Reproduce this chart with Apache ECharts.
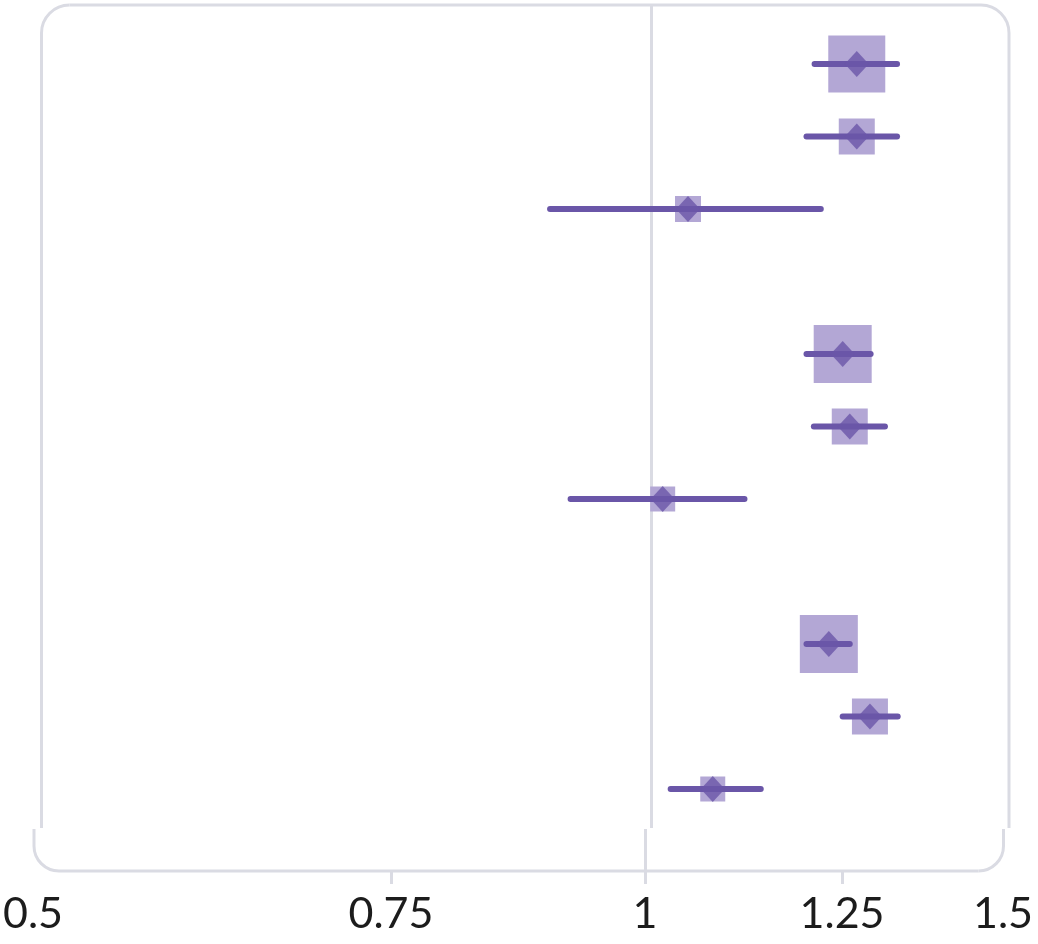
<!DOCTYPE html>
<html>
<head>
<meta charset="utf-8">
<script src="https://cdn.jsdelivr.net/npm/echarts@6/dist/echarts.min.js"></script>
<style>
html,body{margin:0;padding:0;background:#ffffff;}
#chart{width:1038px;height:944px;}
</style>
</head>
<body>
<div id="chart"></div>
<script>
// ---- data ----
const xTicks = [0.5, 0.75, 1, 1.25, 1.5];
const rowPos = [0, 1, 2, 4, 5, 6, 8, 9, 10];           // row slots (gaps between groups)
const estimates = [1.262, 1.262, 1.042, 1.242, 1.252, 1.0125, 1.2226, 1.281, 1.0717];
const lower     = [1.203, 1.192, 0.891, 1.192, 1.202, 0.912, 1.192, 1.242, 1.0217];
const upper     = [1.321, 1.321, 1.2115, 1.282, 1.303, 1.111, 1.252, 1.322, 1.1317];
const weights   = [57, 36, 26, 58, 36, 25, 58, 36, 25]; // relative study weights (box size)
const refValue = 1;

// ---- styles ----
const PURPLE = '#6a56a8';
const BOX = '#b3a7d5';
const FRAME = '#dadbe3';

const chart = echarts.init(document.getElementById('chart'), null, {renderer: 'canvas'});

const boxData = rowPos.map((r, i) => [estimates[i], r, weights[i]]);
const ciData = rowPos.map((r, i) => [lower[i], upper[i], r]);
const estData = rowPos.map((r, i) => [estimates[i], r]);

const fmt = v => String(Number(Number(v).toPrecision(3)));

const frameStyle = {stroke: FRAME, lineWidth: 3, fill: null};

const option = {
  backgroundColor: '#ffffff',
  animation: false,
  grid: [
    {left: 41, right: 29, top: 5, bottom: 116},
    {left: 33, right: 35, top: 829, bottom: 73}
  ],
  xAxis: [
    {gridIndex: 0, type: 'log', min: 0.5, max: 1.5,
     axisLine: {show: false}, axisTick: {show: false}, axisLabel: {show: false}, splitLine: {show: false}},
    {gridIndex: 1, type: 'log', min: 0.5, max: 1.5,
     axisLine: {show: false},
     axisTick: {show: true, customValues: [0.75, 1, 1.25], length: 13, lineStyle: {color: FRAME, width: 3}},
     axisLabel: {show: true, customValues: xTicks, formatter: fmt, margin: 22,
                 fontSize: 43, color: '#1c1c1c', fontFamily: 'Lato'},
     splitLine: {show: false}}
  ],
  yAxis: [
    {gridIndex: 0, type: 'value', inverse: true, min: -0.814, max: 10.538, show: false},
    {gridIndex: 1, type: 'value', min: 0, max: 1, show: false}
  ],
  series: [
    {
      type: 'scatter', xAxisIndex: 0, yAxisIndex: 0, data: boxData,
      symbol: 'rect', symbolSize: d => d[2],
      itemStyle: {color: BOX, opacity: 1}, silent: true, z: 2,
      markLine: {silent: true, symbol: 'none', label: {show: false},
        lineStyle: {color: FRAME, width: 3, type: 'solid'}, data: [{xAxis: refValue}], z: 1}
    },
    {
      type: 'custom', xAxisIndex: 0, yAxisIndex: 0, data: ciData, z: 3,
      encode: {x: [0, 1], y: 2},
      renderItem: function (params, api) {
        const a = api.coord([api.value(0), api.value(2)]);
        const b = api.coord([api.value(1), api.value(2)]);
        return {type: 'line', shape: {x1: a[0], y1: a[1], x2: b[0], y2: b[1]},
                style: {stroke: PURPLE, lineWidth: 6, lineCap: 'round'}};
      }
    },
    {
      type: 'scatter', xAxisIndex: 0, yAxisIndex: 0, data: estData, z: 4,
      symbol: 'diamond', symbolSize: [24, 26],
      itemStyle: {color: PURPLE}, silent: true
    },
    {
      type: 'line', xAxisIndex: 1, yAxisIndex: 1, data: [],
      markLine: {silent: true, symbol: 'none', label: {show: false},
        lineStyle: {color: FRAME, width: 3, type: 'solid'}, data: [{xAxis: refValue}]}
    }
  ],
  graphic: [
    {type: 'group', silent: true, children: [
      {type: 'line', shape: {x1: 41.5, y1: 828, x2: 41.5, y2: 33}, style: frameStyle},
      {type: 'arc', shape: {cx: 69.5, cy: 33, r: 28, startAngle: Math.PI, endAngle: Math.PI * 1.5, clockwise: true}, style: frameStyle},
      {type: 'line', shape: {x1: 69.5, y1: 5, x2: 981, y2: 5}, style: frameStyle},
      {type: 'arc', shape: {cx: 981, cy: 33, r: 28, startAngle: Math.PI * 1.5, endAngle: Math.PI * 2, clockwise: true}, style: frameStyle},
      {type: 'line', shape: {x1: 1009, y1: 33, x2: 1009, y2: 828}, style: frameStyle},

      {type: 'line', shape: {x1: 34, y1: 829, x2: 34, y2: 846}, style: frameStyle},
      {type: 'arc', shape: {cx: 59, cy: 846, r: 25, startAngle: Math.PI * 0.5, endAngle: Math.PI, clockwise: true}, style: frameStyle},
      {type: 'line', shape: {x1: 59, y1: 871, x2: 978.5, y2: 871}, style: frameStyle},
      {type: 'arc', shape: {cx: 978.5, cy: 846, r: 25, startAngle: 0, endAngle: Math.PI * 0.5, clockwise: true}, style: frameStyle},
      {type: 'line', shape: {x1: 1003.5, y1: 846, x2: 1003.5, y2: 829}, style: frameStyle}
    ]}
  ]
};

chart.setOption(option);
</script>
</body>
</html>
